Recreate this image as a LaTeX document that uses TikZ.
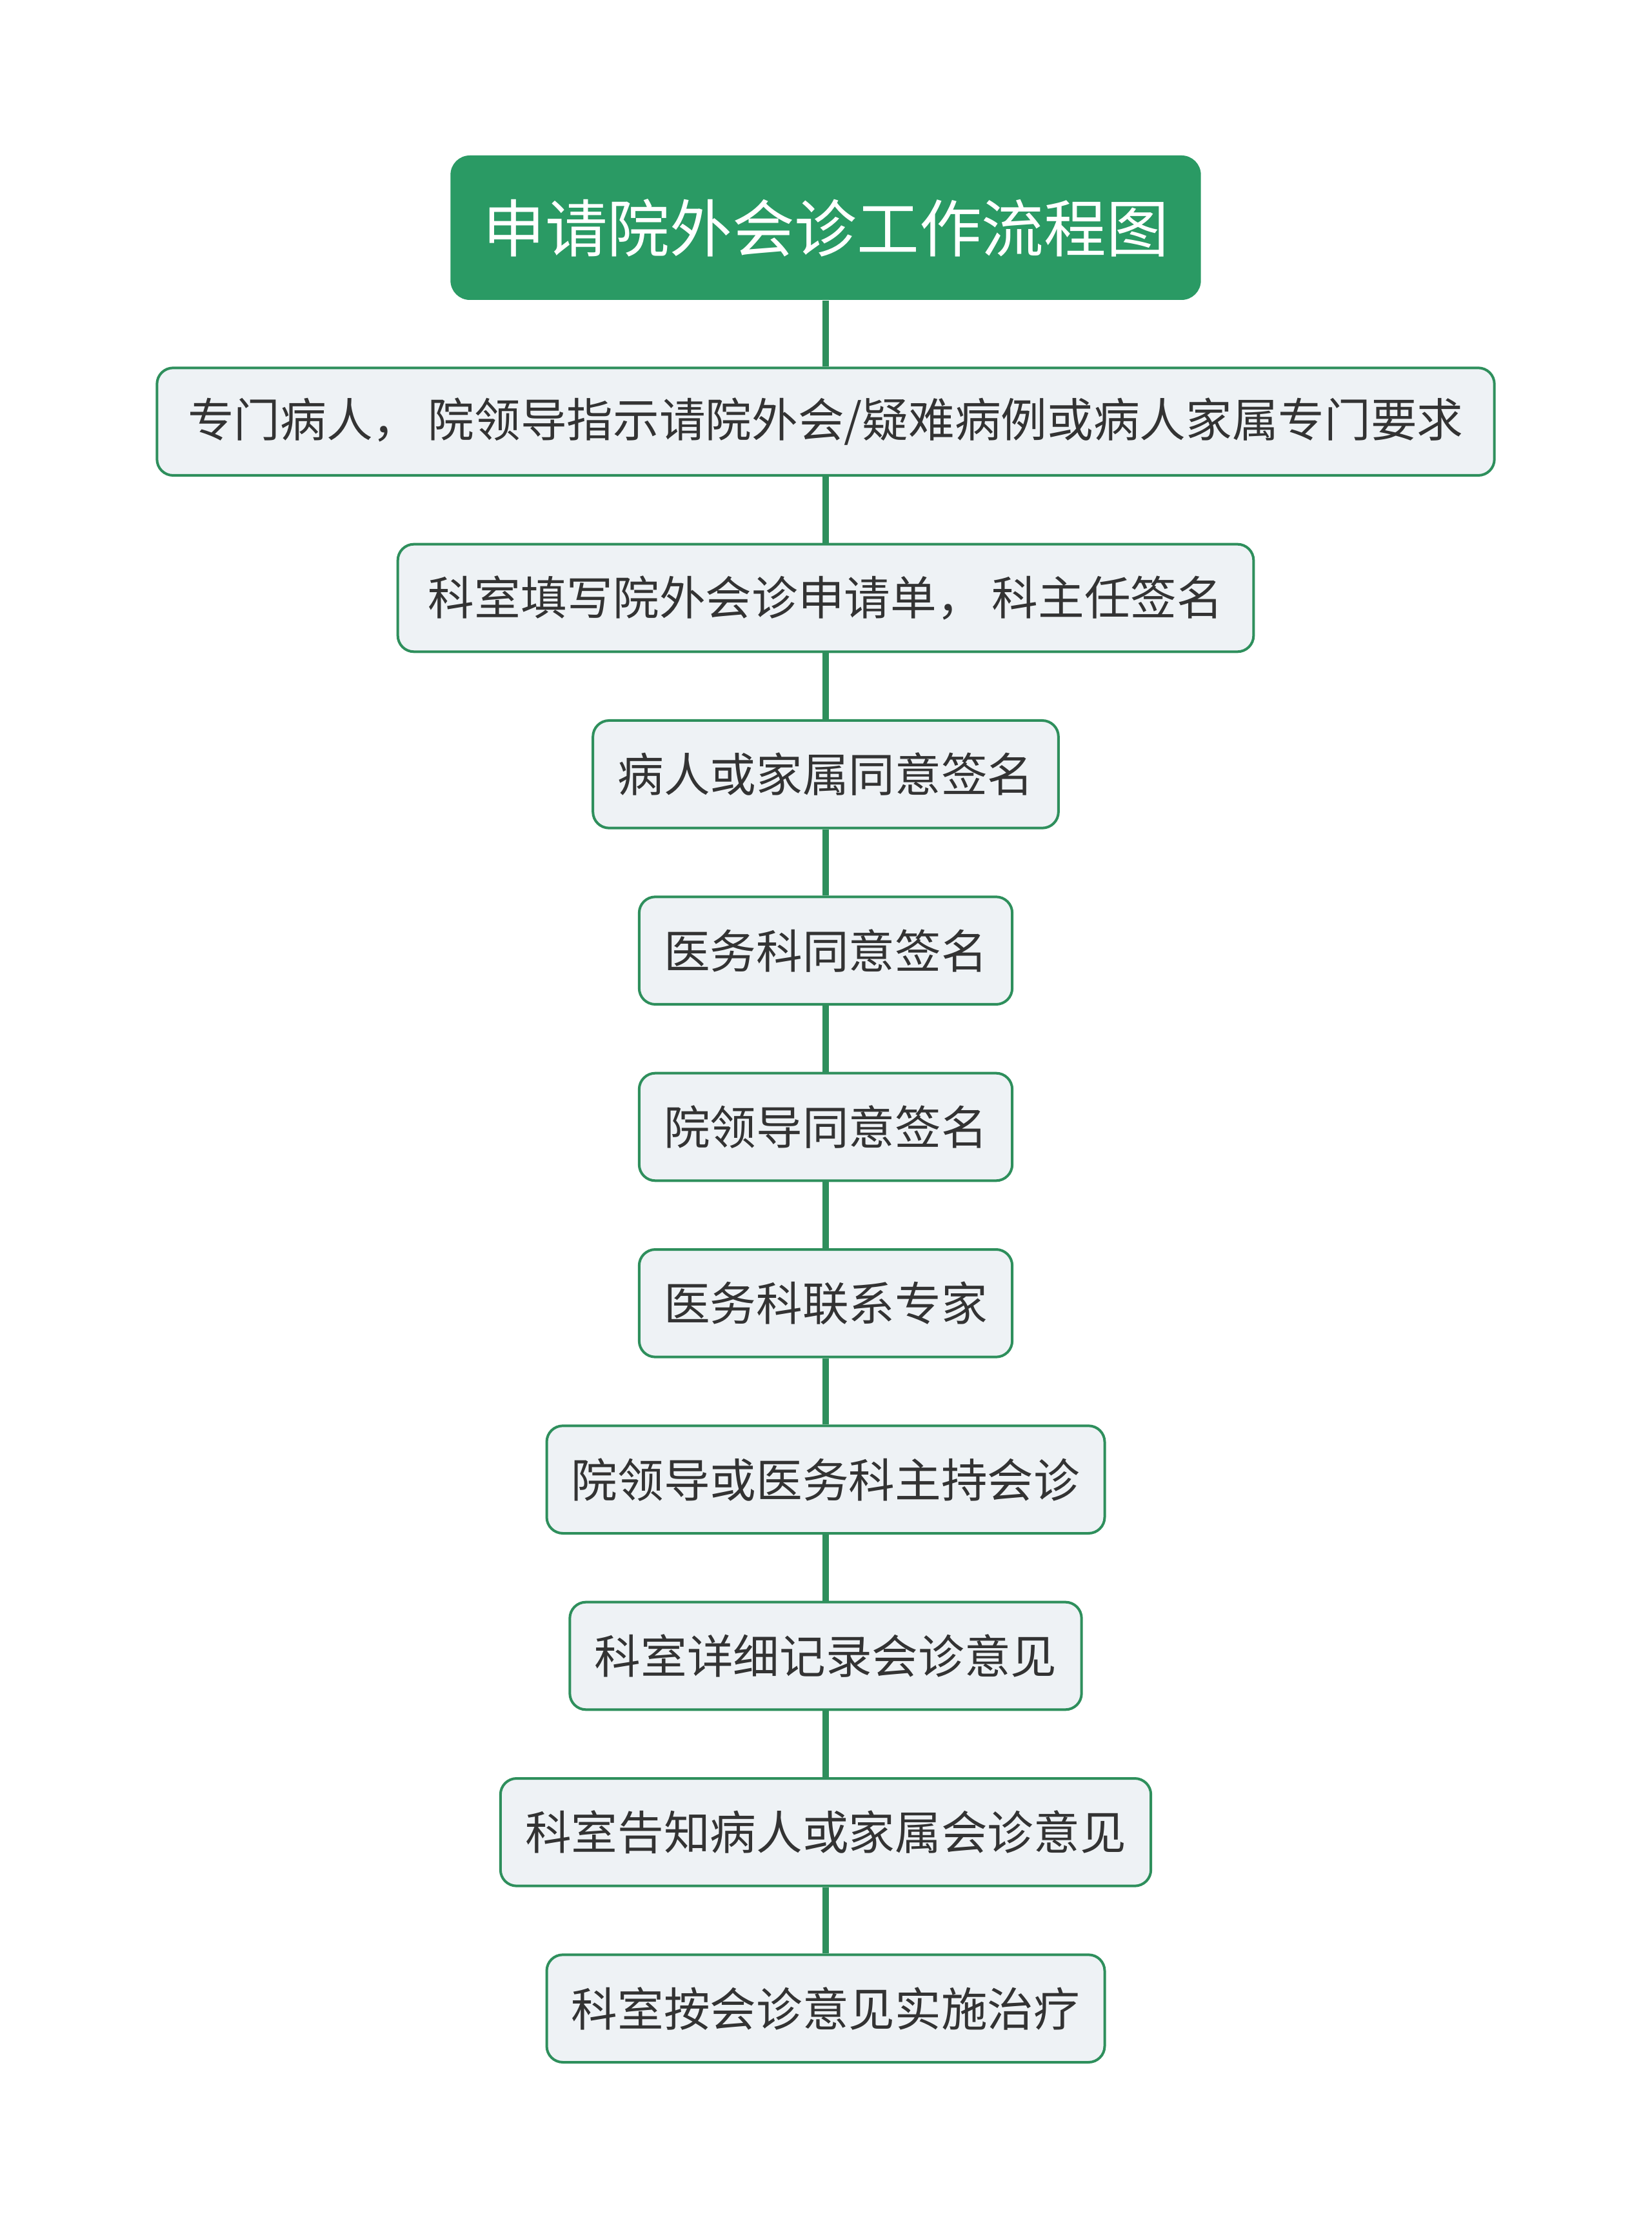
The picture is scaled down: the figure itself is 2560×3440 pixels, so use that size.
\documentclass[tikz,border=0pt]{standalone}
\usepackage{fontspec}
\newfontfamily\cjk{Noto Sans CJK SC}
\usetikzlibrary{positioning}

\definecolor{flowgreen}{HTML}{2A9A64}
\definecolor{edgegreen}{HTML}{2E8F5C}
\definecolor{boxfill}{HTML}{EEF2F5}
\definecolor{boxtext}{HTML}{333333}

\newcommand{\wcomma}{，\hspace{0.2em}}

\begin{document}
\begin{tikzpicture}[
  x=0.3pt, y=-0.3pt,
  node distance=30.8pt,
  every node/.style={font=\cjk},
  titlebox/.style={rectangle, rounded corners=9pt, fill=flowgreen, draw=none,
    text=white, inner xsep=15pt, minimum height=67.2pt,
    font=\cjk\fontsize{29}{34}\selectfont},
  stepbox/.style={rectangle, rounded corners=7.5pt, line width=1.2pt, fill=boxfill,
    draw=edgegreen, text=boxtext, inner xsep=11.5pt, minimum height=50pt,
    font=\cjk\fontsize{21.5}{26}\selectfont},
  link/.style={line width=3pt, edgegreen}
]
\useasboundingbox (0,0) rectangle (2560,3440);

% ====== title ======
\node[titlebox] (title) at (1280,353) {申请院外会诊工作流程图};

% ====== steps ======
\node[stepbox, below=of title, minimum width=622pt] (s1) {专门病人\wcomma 院领导指示请院外会/疑难病例或病人家属专门要求};
\node[stepbox, below=of s1, minimum width=398pt] (s2) {科室填写院外会诊申请单\wcomma 科主任签名};
\node[stepbox, below=of s2] (s3) {病人或家属同意签名};
\node[stepbox, below=of s3] (s4) {医务科同意签名};
\node[stepbox, below=of s4] (s5) {院领导同意签名};
\node[stepbox, below=of s5] (s6) {医务科联系专家};
\node[stepbox, below=of s6] (s7) {院领导或医务科主持会诊};
\node[stepbox, below=of s7] (s8) {科室详细记录会诊意见};
\node[stepbox, below=of s8] (s9) {科室告知病人或家属会诊意见};
\node[stepbox, below=of s9] (s10) {科室按会诊意见实施治疗};

% ====== connectors ======
\foreach \from/\to in {title/s1, s1/s2, s2/s3, s3/s4, s4/s5, s5/s6, s6/s7, s7/s8, s8/s9, s9/s10}
  \draw[link] (\from.south) -- (\to.north);

\end{tikzpicture}
\end{document}
